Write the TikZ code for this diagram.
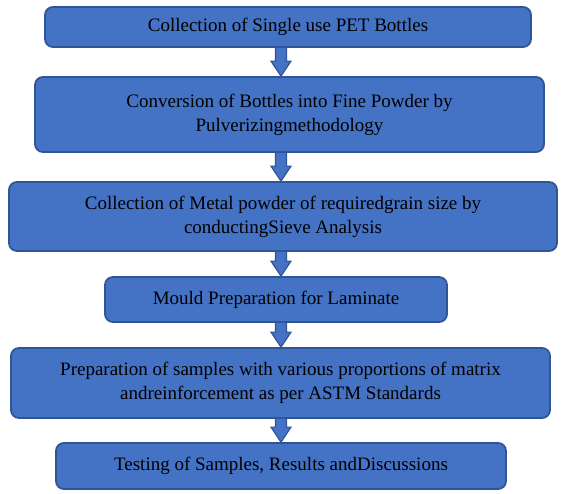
\documentclass[tikz,border=0pt]{standalone}
\usepackage{fontspec}
\setmainfont{Liberation Serif}
\usetikzlibrary{calc,backgrounds}
\definecolor{boxfill}{HTML}{4472C4}
\definecolor{boxline}{HTML}{2F5597}
\newcommand{\flowarrowbetween}[2]{%
  \draw[flowarrow] let \p0=(axis), \p1=(#1.south), \p2=(#2.north) in
    (\x0-5.5pt,\y1+2pt) -- (\x0-5.5pt,\y2+15pt) -- (\x0-10pt,\y2+15pt) -- (\x0,\y2)
    -- (\x0+10pt,\y2+15pt) -- (\x0+5.5pt,\y2+15pt) -- (\x0+5.5pt,\y1+2pt) -- cycle;}
\begin{document}
\begin{tikzpicture}[x=1pt,y=-1pt,
  stepbox/.style={draw=boxline, fill=boxfill, line width=1.8pt, rounded corners=8pt,
    align=center, inner sep=0pt, text=black, font=\fontsize{19}{24}\selectfont},
  flowarrow/.style={draw=boxline, fill=boxfill, line width=1.2pt, line join=miter}]
\useasboundingbox (0,0) rectangle (561,493);
\coordinate (axis) at (281,0);
\node[stepbox, minimum width=486pt, minimum height=40pt] (b1) at (288,27)
  {Collection of Single use PET Bottles};
\node[stepbox, minimum width=509pt, minimum height=75pt] (b2) at (289.5,114.5)
  {Conversion of Bottles into Fine Powder by\\Pulverizingmethodology};
\node[stepbox, minimum width=548pt, minimum height=69pt] (b3) at (283,216.5)
  {Collection of Metal powder of requiredgrain size by\\conductingSieve Analysis};
\node[stepbox, minimum width=342pt, minimum height=45pt] (b4) at (276,299.5)
  {Mould Preparation for Laminate};
\node[stepbox, minimum width=539pt, minimum height=70pt] (b5) at (280.5,383)
  {Preparation of samples with various proportions of matrix\\andreinforcement as per ASTM Standards};
\node[stepbox, minimum width=450pt, minimum height=46pt] (b6) at (281,466)
  {Testing of Samples, Results andDiscussions};
\begin{pgfonlayer}{background}
\flowarrowbetween{b1}{b2}
\flowarrowbetween{b2}{b3}
\flowarrowbetween{b3}{b4}
\flowarrowbetween{b4}{b5}
\flowarrowbetween{b5}{b6}
\end{pgfonlayer}
\end{tikzpicture}
\end{document}
